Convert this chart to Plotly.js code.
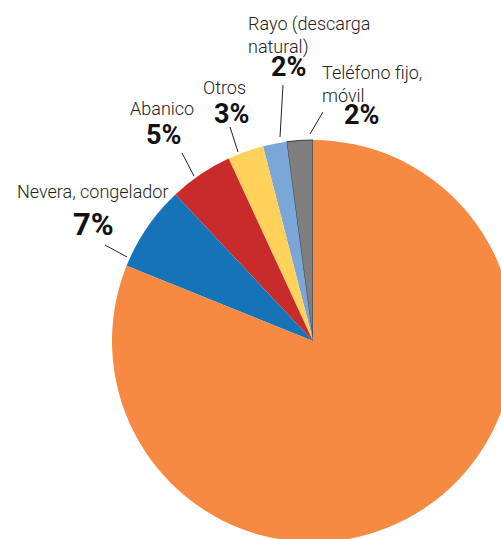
<!DOCTYPE html>
<html><head><meta charset="utf-8">
<script src="https://cdn.plot.ly/plotly-3.0.1.min.js"></script>
<style>html,body{margin:0;padding:0;overflow:hidden;background:#fff}#c{width:520px;height:545px}</style>
</head><body><div id="c"></div>
<script>
// Data
const categories = ["Teléfono fijo, móvil", "Rayo (descarga natural)", "Otros", "Abanico", "Nevera, congelador", "Resto"];
const nameLines = ["Teléfono fijo,<br>móvil", "Rayo (descarga<br>natural)", "Otros", "Abanico", "Nevera, congelador", ""];
const values = [2.1, 1.9, 2.9, 5.1, 6.9, 81.1];
const colors = ["#7f7f7f", "#7ba6d8", "#ffd25c", "#c92b2a", "#1673b8", "#f68a42"];

const W = 520, H = 545;
const px = x => x / W, py = y => 1 - y / H;

// label layout (pixel positions): name top-left, pct centre, pct size, leader line
const labelPos = [
  {nx: 320, ny: 60, px: 361, py: 115, s: 27, l: [310, 134, 323, 112]},
  {nx: 246, ny: 11, px: 288, py: 67, s: 27, l: [280, 137, 283, 85]},
  {nx: 201, ny: 75, px: 231, py: 114, s: 27, l: [238, 152, 230, 127]},
  {nx: 128, ny: 96, px: 163, py: 135, s: 27, l: [194, 176, 182, 153]},
  {nx: 15, ny: 179, px: 93, py: 224, s: 31, l: [127, 257, 105, 245]}
];

const total = values.reduce((a, b) => a + b, 0);
const annotations = [], shapes = [];
labelPos.forEach((p, i) => {
  annotations.push({xref: 'paper', yref: 'paper', x: px(p.nx), y: py(p.ny), xanchor: 'left', yanchor: 'top',
    text: nameLines[i], showarrow: false, align: 'left',
    font: {family: 'Roboto', size: 18, weight: 300, color: '#222'}});
  annotations.push({xref: 'paper', yref: 'paper', x: px(p.px), y: py(p.py), xanchor: 'center', yanchor: 'middle',
    text: Math.round(values[i] / total * 100) + '%', showarrow: false,
    font: {family: 'Roboto', size: p.s, weight: 700, color: '#111'}});
  shapes.push({type: 'line', xref: 'paper', yref: 'paper', x0: px(p.l[0]), y0: py(p.l[1]), x1: px(p.l[2]), y1: py(p.l[3]),
    line: {color: '#222', width: 1}});
});

const trace = {
  type: 'pie', labels: categories, values: values, sort: false, direction: 'counterclockwise',
  rotation: -values[0] / total * 360,
  marker: {colors: colors, line: {color: ['#3a3a3a', '#7ba6d8', '#ffd25c', '#c92b2a', '#1673b8', '#f68a42'], width: [1, 0, 0, 0, 0, 0]}},
  textinfo: 'none', hoverinfo: 'label+percent',
  domain: {x: [112 / W, 514 / W], y: [3 / H, 405 / H]}
};

Plotly.newPlot('c', [trace], {
  width: W, height: H, margin: {l: 0, r: 0, t: 0, b: 0}, showlegend: false,
  paper_bgcolor: '#fff', annotations: annotations, shapes: shapes
}, {staticPlot: true});
</script></body></html>
